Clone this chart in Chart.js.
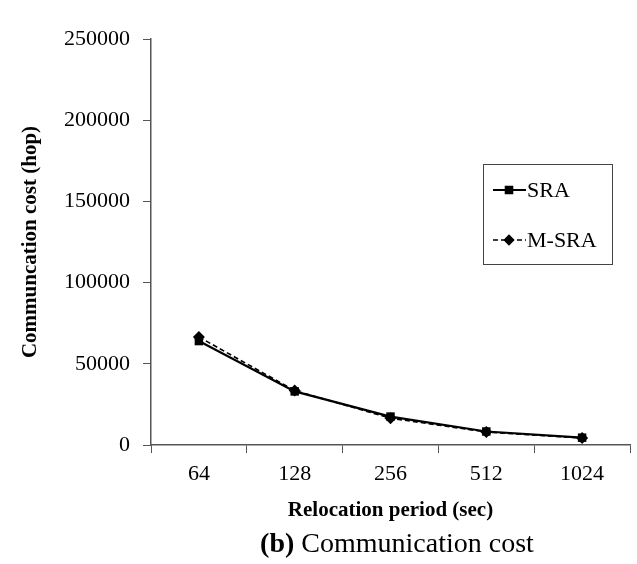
<!DOCTYPE html>
<html>
<head>
<meta charset="utf-8">
<script src="https://cdn.jsdelivr.net/npm/chart.js@4.4.1/dist/chart.umd.min.js"></script>
<style>
  html, body { margin: 0; padding: 0; background: #fff; }
  #wrap { width: 637px; height: 564px; }
</style>
</head>
<body>
<div id="wrap"><canvas id="chart" width="637" height="564"></canvas></div>
<script>
// Relocation periods (sec)
const periods = ['64', '128', '256', '512', '1024'];
// Communication cost (hop)
const sraCost = [64000, 33000, 17500, 8300, 4500];
const msraCost = [66500, 33500, 16500, 8000, 4300];
const yTicks = [0, 50000, 100000, 150000, 200000, 250000];

const serif = '"Liberation Serif", "Times New Roman", serif';
const axisColor = '#555';

// Boxed legend inside the plot, drawn from the datasets
const boxLegend = {
  id: 'boxLegend',
  afterDraw(chart) {
    const ctx = chart.ctx;
    const x0 = 483, y0 = 164, w = 129, h = 100;
    ctx.save();
    ctx.strokeStyle = '#444';
    ctx.lineWidth = 1;
    ctx.strokeRect(x0 + 0.5, y0 + 0.5, w, h);
    chart.data.datasets.forEach((ds, i) => {
      const y = y0 + 26 + i * 50;
      ctx.strokeStyle = ds.borderColor;
      ctx.lineWidth = ds.borderWidth;
      ctx.setLineDash(ds.borderDash || []);
      ctx.beginPath();
      ctx.moveTo(x0 + 10, y);
      ctx.lineTo(x0 + 43, y);
      ctx.stroke();
      ctx.setLineDash([]);
      Chart.helpers.drawPoint(ctx, {
        pointStyle: ds.pointStyle,
        radius: ds.pointRadius * 0.75,
        borderWidth: 1
      }, x0 + 26, y);
      ctx.fillStyle = '#000';
      ctx.font = '22px ' + serif;
      ctx.textBaseline = 'middle';
      ctx.textAlign = 'left';
      ctx.fillText(ds.label, x0 + 44, y + 1);
    });
    ctx.restore();
  }
};

// Caption under the chart: "(b) Communication cost"
const caption = {
  id: 'caption',
  afterDraw(chart) {
    const ctx = chart.ctx;
    const cx = 397, cy = 545;
    const a = '(b)';
    const b = ' Communication cost';
    ctx.save();
    ctx.fillStyle = '#000';
    ctx.textBaseline = 'middle';
    ctx.textAlign = 'left';
    ctx.font = 'bold 28px ' + serif;
    const wa = ctx.measureText(a).width;
    ctx.font = '28px ' + serif;
    const wb = ctx.measureText(b).width;
    const start = cx - (wa + wb) / 2;
    ctx.font = 'bold 28px ' + serif;
    ctx.fillText(a, start, cy);
    ctx.font = '28px ' + serif;
    ctx.fillText(b, start + wa, cy);
    ctx.restore();
  }
};

new Chart(document.getElementById('chart'), {
  type: 'line',
  data: {
    labels: periods,
    datasets: [
      {
        label: 'SRA',
        data: sraCost,
        borderColor: '#000',
        backgroundColor: '#000',
        borderWidth: 2.2,
        pointStyle: 'rect',
        pointRadius: 6,
        pointBorderWidth: 0,
        tension: 0,
        fill: false,
        order: 1
      },
      {
        label: 'M-SRA',
        data: msraCost,
        borderColor: '#000',
        backgroundColor: '#000',
        borderWidth: 1.6,
        borderDash: [5, 3],
        pointStyle: 'rectRot',
        pointRadius: 6,
        pointBorderWidth: 0,
        tension: 0,
        fill: false,
        order: 2
      }
    ]
  },
  options: {
    responsive: false,
    animation: false,
    devicePixelRatio: 1,
    layout: { padding: { top: 39, right: 7, bottom: 0, left: 0 } },
    plugins: {
      legend: { display: false },
      tooltip: { enabled: false }
    },
    scales: {
      x: {
        offset: true,
        grid: {
          offset: true,
          drawOnChartArea: false,
          tickLength: 8,
          color: axisColor
        },
        border: { color: axisColor, width: 1.5 },
        ticks: {
          color: '#000',
          padding: 8,
          font: { family: serif, size: 22 }
        },
        title: {
          display: true,
          text: 'Relocation period (sec)',
          color: '#000',
          padding: { top: 0, bottom: 41 },
          font: { family: serif, size: 21, weight: 'bold' }
        },
        afterFit(scale) { scale.height = 119; }
      },
      y: {
        min: 0,
        max: 250000,
        afterBuildTicks(scale) { scale.ticks = yTicks.map(v => ({ value: v })); },
        grid: {
          drawOnChartArea: false,
          tickLength: 8,
          color: axisColor
        },
        border: { color: axisColor, width: 1.5 },
        ticks: {
          color: '#000',
          padding: 13,
          font: { family: serif, size: 22 },
          callback: v => String(v)
        },
        title: {
          display: true,
          text: 'Communcation cost (hop)',
          color: '#000',
          padding: { top: 18, bottom: 0 },
          font: { family: serif, size: 21, weight: 'bold' }
        },
        afterFit(scale) { scale.width = 151; }
      }
    }
  },
  plugins: [boxLegend, caption]
});
</script>
</body>
</html>
